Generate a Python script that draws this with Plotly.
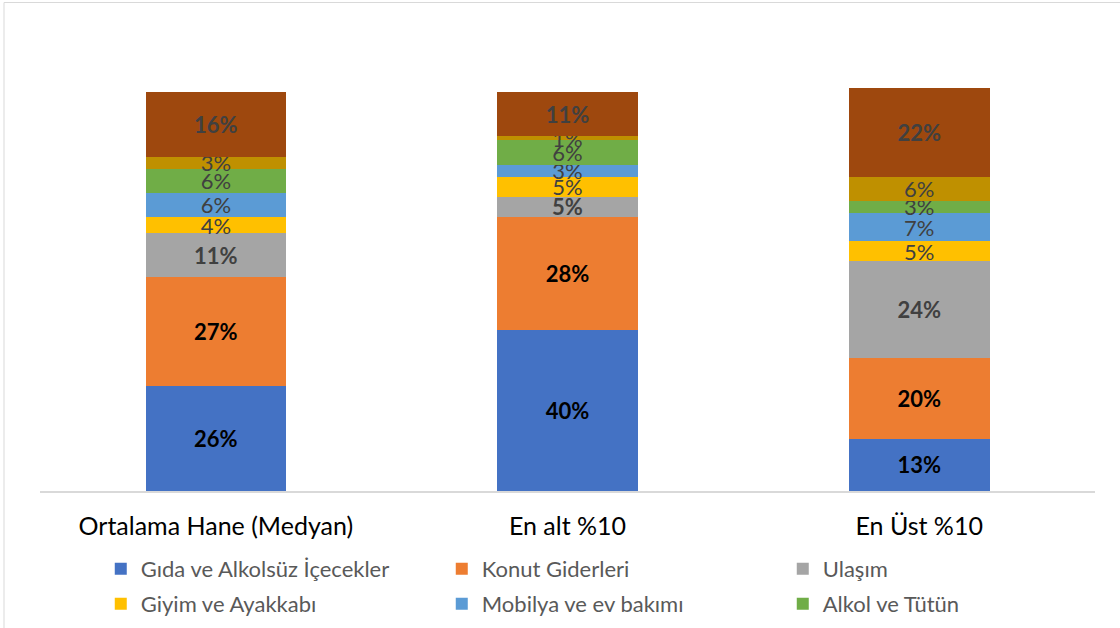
import plotly.graph_objects as go

categories = ["Ortalama Hane (Medyan)", "En alt %10", "En Üst %10"]

series_names = [
    "Gıda ve Alkolsüz İçecekler",
    "Konut Giderleri",
    "Ulaşım",
    "Giyim ve Ayakkabı",
    "Mobilya ve ev bakımı",
    "Alkol ve Tütün",
    "Eğitim",
    "Diğer",
]

gida = [26, 40, 13]
konut = [27, 28, 20]
ulasim = [11, 5, 24]
giyim = [4, 5, 5]
mobilya = [6, 3, 7]
alkol = [6, 6, 3]
egitim = [3, 1, 6]
diger = [16, 11, 22]

values = [gida, konut, ulasim, giyim, mobilya, alkol, egitim, diger]
colors = ["#4472C4", "#ED7D31", "#A5A5A5", "#FFC000", "#5B9BD5", "#70AD47", "#BF9000", "#9E480E"]
label_colors = ["#000000", "#000000", "#404040", "#404040", "#404040", "#404040", "#404040", "#404040"]
label_weights = ["bold", "bold", "bold", "normal", "normal", "normal", "normal", "bold"]
legend_ids = ["legend", "legend", "legend", "legend2", "legend2", "legend2", None, None]

FONT = "Lato"

fig = go.Figure()
for name, vals, col, lc, lw, lg in zip(series_names, values, colors, label_colors, label_weights, legend_ids):
    kw = dict(legend=lg) if lg else dict(showlegend=False)
    fig.add_trace(go.Bar(
        x=categories, y=vals, name=name,
        marker=dict(color=col, line=dict(width=0)),
        text=[f"{v}%" for v in vals],
        textposition="inside", insidetextanchor="middle", textangle=0,
        textfont=dict(family=FONT, size=22, color=lc, weight=lw),
        hoverinfo="skip",
        **kw,
    ))

legend_common = dict(
    orientation="h", xanchor="left", yanchor="middle", traceorder="normal",
    font=dict(family=FONT, size=22, color="#595959"),
    entrywidth=296, entrywidthmode="pixels",
    bgcolor="rgba(0,0,0,0)", itemclick=False, itemdoubleclick=False,
)

fig.update_layout(
    width=1120, height=628,
    margin=dict(l=40, r=25, t=88, b=137, autoexpand=False),
    barmode="stack", bargap=0.6,
    paper_bgcolor="white", plot_bgcolor="white",
    font=dict(family=FONT),
    uniformtext=dict(minsize=22, mode="show"),
    xaxis=dict(
        showline=True, linecolor="#D9D9D9", linewidth=1.5,
        ticks="", tickfont=dict(family=FONT, size=25, color="#000000"),
        ticklabelstandoff=12,
        showgrid=False, zeroline=False,
    ),
    yaxis=dict(range=[0, 100], visible=False, showgrid=False, zeroline=False),
    legend=dict(x=0.0576, y=-0.1935, **legend_common),
    legend2=dict(x=0.0576, y=-0.2804, **legend_common),
    shapes=[dict(
        type="rect", xref="paper", yref="paper",
        x0=(4 - 40) / 1055, x1=1.2, y0=-1.0, y1=(491 - 2.5) / 403,
        line=dict(color="#D9D9D9", width=1), fillcolor="rgba(0,0,0,0)", layer="below",
    )],
)

fig.write_html(
    "out.html",
    config={"displayModeBar": False},
    post_script="document.body.style.margin='0';document.body.style.padding='0';",
)
